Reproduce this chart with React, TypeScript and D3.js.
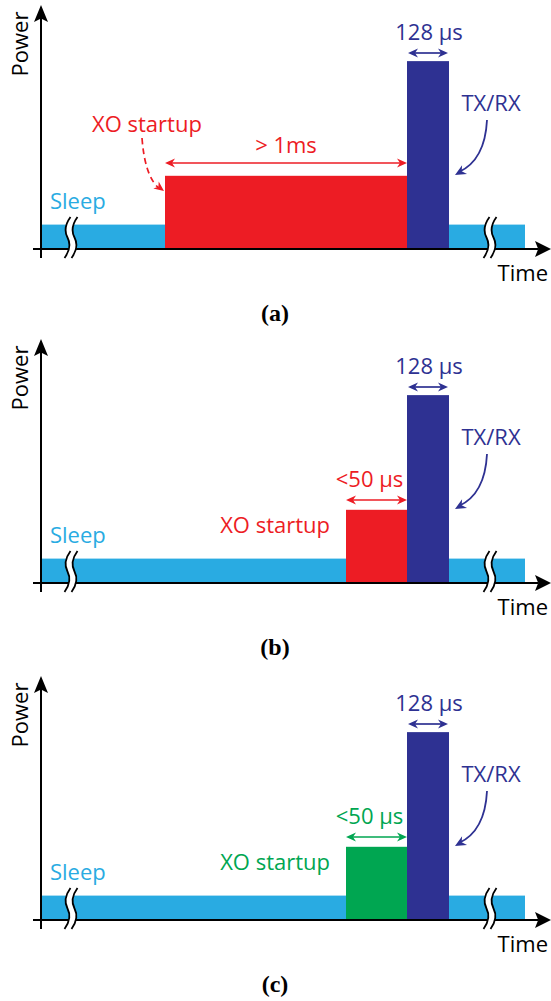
import React from "react";
import * as d3 from "d3";

// ---- data ----
const panelIds = ["a", "b", "c"];
const panelLabels = ["(a)", "(b)", "(c)"];
const panelOffsets = [0, 334, 671];
const xoStart = [124, 305, 305]; // time units
const xoColors = ["#ED1C24", "#ED1C24", "#00A651"];
const xoDurationLabels = ["> 1ms", "<50 µs", "<50 µs"];
const txStart = 366;
const txEnd = 408;
const sleepEnd = 484;
const breakTimes = [30, 449];
const sleepPower = 10;
const xoPower = 30;
const txPower = 77;

const SLEEP_C = "#29ABE2";
const TX_C = "#2E3192";
const FONT = "'Open Sans', sans-serif";
const FS = 22;

const x = d3.scaleLinear().domain([0, 510]).range([41, 551]);
const y = d3.scaleLinear().domain([0, 100]).range([249, 5]);

function head(tx: number, ty: number, ang: number, L: number, W: number, notch = 0.25) {
  const c = Math.cos(ang), s = Math.sin(ang);
  const p = (a: number, b: number) => [tx + a * c - b * s, ty + a * s + b * c];
  const pts = [p(0, 0), p(-L, -W), p(-L * (1 - notch), 0), p(-L, W)];
  return "M" + pts.map((q) => q.join(",")).join("L") + "Z";
}

function DoubleArrow({ x0, x1, yy, color }: any) {
  return (
    <g>
      <line x1={x0 + 4} x2={x1 - 4} y1={yy} y2={yy} stroke={color} strokeWidth={1.7} />
      <path d={head(x1, yy, 0, 10, 4.5, 0.3)} fill={color} />
      <path d={head(x0, yy, Math.PI, 10, 4.5, 0.3)} fill={color} />
    </g>
  );
}

function BreakMark({ cx }: any) {
  const y0 = 217, y1 = 258, ym = (y0 + y1) / 2;
  const curve = (dx: number) =>
    `M${cx + dx + 3},${y0} Q${cx + dx - 5},${y0 + 11} ${cx + dx},${ym} Q${cx + dx + 5},${y1 - 11} ${cx + dx - 3},${y1}`;
  const a = -3.5, b = 3.5;
  const fillPath =
    `M${cx + a + 3},${y0} Q${cx + a - 5},${y0 + 11} ${cx + a},${ym} Q${cx + a + 5},${y1 - 11} ${cx + a - 3},${y1}` +
    ` L${cx + b - 3},${y1} Q${cx + b + 5},${y1 - 11} ${cx + b},${ym} Q${cx + b - 5},${y0 + 11} ${cx + b + 3},${y0} Z`;
  return (
    <g>
      <path d={fillPath} fill="white" />
      <path d={curve(a)} fill="none" stroke="black" strokeWidth={1.8} />
      <path d={curve(b)} fill="none" stroke="black" strokeWidth={1.8} />
    </g>
  );
}

function Panel({ i }: any) {
  const xs = xoStart[i];
  const col = xoColors[i];
  const segs = [
    { t0: 0, t1: xs, p: sleepPower, c: SLEEP_C },
    { t0: xs, t1: txStart, p: xoPower, c: col },
    { t0: txStart, t1: txEnd, p: txPower, c: TX_C },
    { t0: txEnd, t1: sleepEnd, p: sleepPower, c: SLEEP_C },
  ];
  const durY = i === 0 ? 163 : 166;
  const xoCenter = i === 0 ? (x(xs) + x(txStart)) / 2 : (x(xs) + x(txStart)) / 2 - 7;
  return (
    <g transform={`translate(0,${panelOffsets[i]})`}>
      {segs.map((s, k) => (
        <rect key={k} x={x(s.t0)} y={y(s.p)} width={x(s.t1) - x(s.t0)} height={y(0) - y(s.p)} fill={s.c} />
      ))}
      {/* axes */}
      <line x1={x(0)} x2={x(0)} y1={258} y2={18} stroke="black" strokeWidth={2} />
      <path d={head(x(0), 5, -Math.PI / 2, 17, 7, 0.2)} fill="black" />
      <line x1={33} x2={538} y1={y(0)} y2={y(0)} stroke="black" strokeWidth={2} />
      <path d={head(551, y(0), 0, 16, 8, 0.2)} fill="black" />
      {breakTimes.map((t, k) => (
        <BreakMark key={k} cx={x(t)} />
      ))}
      {/* labels */}
      <text x={28} y={44} transform="rotate(-90,28,44)" textAnchor="middle" fontFamily={FONT} fontSize={FS} fill="black">
        Power
      </text>
      <text x={548} y={281} textAnchor="end" fontFamily={FONT} fontSize={FS} fill="black">
        Time
      </text>
      <text x={50} y={209} fontFamily={FONT} fontSize={FS} fill={SLEEP_C}>
        Sleep
      </text>
      {i === 0 ? (
        <text x={92} y={132} fontFamily={FONT} fontSize={FS} fill={col}>
          XO startup
        </text>
      ) : (
        <text x={330} y={199} textAnchor="end" fontFamily={FONT} fontSize={FS} fill={col}>
          XO startup
        </text>
      )}
      {i === 0 && (
        <g>
          <path d="M142,138 Q145,178 160,189" fill="none" stroke={col} strokeWidth={1.7} strokeDasharray="6,4" />
          <path d={head(164, 191, Math.atan2(12, 16), 10, 4.5, 0.3)} fill={col} />
        </g>
      )}
      <text x={xoCenter} y={153} textAnchor="middle" fontFamily={FONT} fontSize={FS} fill={col}>
        {xoDurationLabels[i]}
      </text>
      <DoubleArrow x0={x(xs)} x1={x(txStart)} yy={durY} color={col} />
      <text x={429} y={40} textAnchor="middle" fontFamily={FONT} fontSize={FS} fill={TX_C}>
        128 µs
      </text>
      <DoubleArrow x0={x(txStart) + 1} x1={x(txEnd) - 1} yy={53} color={TX_C} />
      <text x={491} y={111} textAnchor="middle" fontFamily={FONT} fontSize={FS} fill={TX_C}>
        TX/RX
      </text>
      <path d="M487,120 Q485,160 459,172" fill="none" stroke={TX_C} strokeWidth={1.8} />
      <path d={head(455, 175, Math.atan2(8, -14), 11, 5, 0.3)} fill={TX_C} />
      <text x={275} y={321} textAnchor="middle" fontFamily="'Liberation Serif', 'Times New Roman', serif" fontWeight="bold" fontSize={24} fill="black">
        {panelLabels[i]}
      </text>
    </g>
  );
}

export default function App() {
  return (
    <svg width={551} height={1001} style={{ position: "absolute", left: 0, top: 0, background: "white" }}>
      <rect width={551} height={1001} fill="white" />
      {panelIds.map((id, i) => (
        <Panel key={id} i={i} />
      ))}
    </svg>
  );
}
